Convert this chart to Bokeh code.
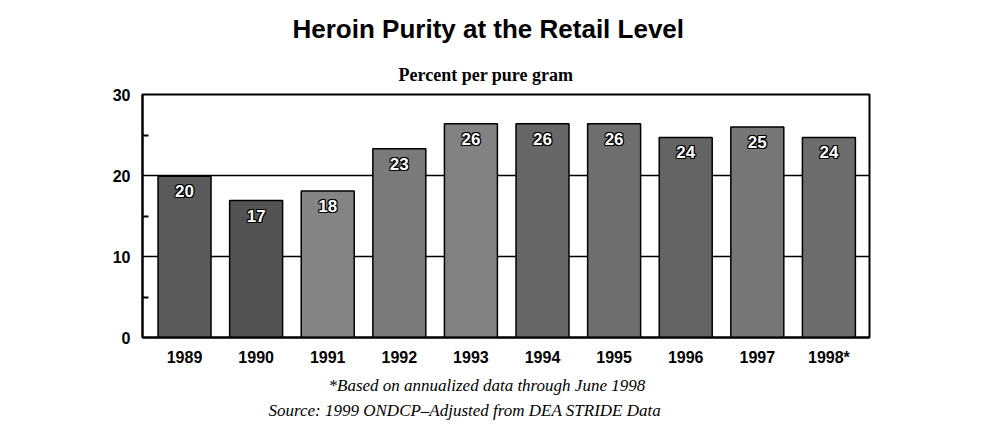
from bokeh.plotting import figure
from bokeh.models import ColumnDataSource, FixedTicker, Title
from bokeh.core.properties import value
from bokeh.embed import file_html
from bokeh.resources import INLINE

years = ["1989", "1990", "1991", "1992", "1993", "1994", "1995", "1996", "1997", "1998*"]
purity = [19.9, 16.9, 18.1, 23.3, 26.4, 26.4, 26.4, 24.7, 26.0, 24.7]
labels = ["20", "17", "18", "23", "26", "26", "26", "24", "25", "24"]
bar_colors = ["#5a5a5a", "#535353", "#848484", "#7a7a7a", "#828282",
              "#676767", "#6e6e6e", "#646464", "#777777", "#6d6d6d"]
y_ticks = [0, 10, 20, 30]
y_minor = [5, 15, 25]
grid_levels = [10, 20]

title_text = "Heroin Purity at the Retail Level"
subtitle_text = "Percent per pure gram"
note_text = "*Based on annualized data through June 1998"
source_text = "Source: 1999 ONDCP\u2013Adjusted from DEA STRIDE Data"

idx = list(range(len(years)))
src = ColumnDataSource(dict(x=idx, top=purity, lab=labels, color=bar_colors))

p = figure(width=979, height=426, output_backend="svg", toolbar_location=None,
           title=None,
           x_range=(-0.587, 9.567), y_range=(0, 30),
           min_border_left=142, min_border_right=110,
           min_border_top=94, min_border_bottom=89)
p.background_fill_color = "white"
p.border_fill_color = "white"
p.outline_line_color = "black"
p.outline_line_width = 2

p.vbar(x="x", top="top", width=0.74, bottom=0, source=src,
       fill_color="color", line_color="black", line_width=1.5)

lab_font = dict(text_align="center", text_baseline="middle",
                text_font=value("Liberation Sans"), text_font_style="bold",
                text_font_size="17px")
for dx, dy in [(-1, 0), (1, 0), (0, -1), (0, 1), (-1, -1), (1, 1), (-1, 1), (1, -1)]:
    p.text(x="x", y="top", text="lab", source=src, x_offset=dx, y_offset=15 + dy,
           text_color="black", **lab_font)
p.text(x="x", y="top", text="lab", source=src, y_offset=15,
       text_color="white", **lab_font)

# axes
p.xaxis.ticker = FixedTicker(ticks=idx)
p.xaxis.major_label_overrides = {i: y for i, y in zip(idx, years)}
p.xaxis.major_tick_line_color = None
p.xaxis.minor_tick_line_color = None
p.xaxis.axis_line_width = 2
p.xaxis.major_label_standoff = 5
p.xaxis.major_label_text_font = "Liberation Sans"
p.xaxis.major_label_text_font_style = "bold"
p.xaxis.major_label_text_font_size = "16px"
p.xaxis.major_label_text_color = "black"

p.yaxis.ticker = FixedTicker(ticks=y_ticks, minor_ticks=y_minor)
p.yaxis.major_tick_line_color = None
p.yaxis.minor_tick_in = 6
p.yaxis.minor_tick_out = 0
p.yaxis.minor_tick_line_width = 2
p.yaxis.minor_tick_line_color = "black"
p.yaxis.axis_line_width = 2
p.yaxis.major_label_standoff = 6
p.yaxis.major_label_text_font = "Liberation Sans"
p.yaxis.major_label_text_font_style = "bold"
p.yaxis.major_label_text_font_size = "16px"
p.yaxis.major_label_text_color = "black"

p.xgrid.grid_line_color = None
p.ygrid.ticker = FixedTicker(ticks=grid_levels)
p.ygrid.grid_line_color = "black"
p.ygrid.grid_line_width = 1.5

# titles (first added sits nearest the frame)
p.add_layout(Title(text=subtitle_text, align="left", offset=256, standoff=20,
                   text_font="Liberation Serif", text_font_style="bold",
                   text_font_size="18px", text_color="black"), "above")
p.add_layout(Title(text=title_text, align="left", offset=150, standoff=18,
                   text_font="Liberation Sans", text_font_style="bold",
                   text_font_size="26px", text_color="black"), "above")
p.add_layout(Title(text=note_text, align="left", offset=186, standoff=11,
                   text_font="Liberation Serif", text_font_style="italic",
                   text_font_size="17px", text_color="black"), "below")
p.add_layout(Title(text=source_text, align="left", offset=126, standoff=-4,
                   text_font="Liberation Serif", text_font_style="italic",
                   text_font_size="17px", text_color="black"), "below")

open("out.html", "w").write(file_html(p, INLINE))
